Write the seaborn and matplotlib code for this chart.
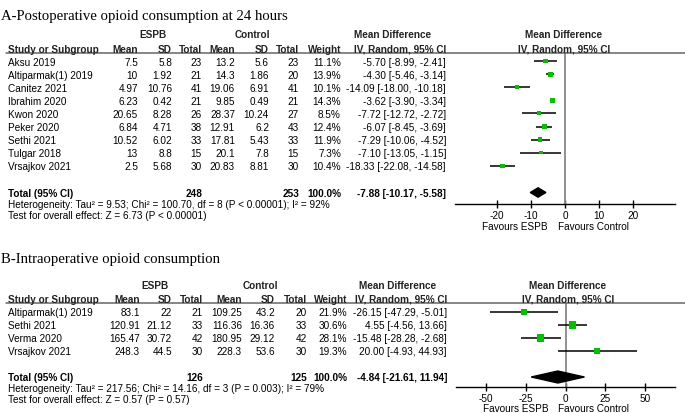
import matplotlib.pyplot as plt
import seaborn as sns
from matplotlib.lines import Line2D
from matplotlib.patches import Polygon

# A - postoperative opioid consumption at 24 hours
studies_a = ["Aksu 2019", "Altiparmak(1) 2019", "Canitez 2021", "Ibrahim 2020", "Kwon 2020",
             "Peker 2020", "Sethi 2021", "Tulgar 2018", "Vrsajkov 2021"]
espb_mean_a = [7.5, 10, 4.97, 6.23, 20.65, 6.84, 10.52, 13, 2.5]
espb_sd_a = [5.8, 1.92, 10.76, 0.42, 8.28, 4.71, 6.02, 8.8, 5.68]
espb_n_a = [23, 21, 41, 21, 26, 38, 33, 15, 30]
ctrl_mean_a = [13.2, 14.3, 19.06, 9.85, 28.37, 12.91, 17.81, 20.1, 20.83]
ctrl_sd_a = [5.6, 1.86, 6.91, 0.49, 10.24, 6.2, 5.43, 7.8, 8.81]
ctrl_n_a = [23, 20, 41, 21, 27, 43, 33, 15, 30]
weight_a = [11.1, 13.9, 10.1, 14.3, 8.5, 12.4, 11.9, 7.3, 10.4]
md_a = [-5.70, -4.30, -14.09, -3.62, -7.72, -6.07, -7.29, -7.10, -18.33]
lo_a = [-8.99, -5.46, -18.00, -3.90, -12.72, -8.45, -10.06, -13.05, -22.08]
hi_a = [-2.41, -3.14, -10.18, -3.34, -2.72, -3.69, -4.52, -1.15, -14.58]
total_a = [248, 253, -7.88, -10.17, -5.58]
het_a = "Heterogeneity: Tau² = 9.53; Chi² = 100.70, df = 8 (P < 0.00001); I² = 92%"
test_a = "Test for overall effect: Z = 6.73 (P < 0.00001)"
ticks_a = [-20, -10, 0, 10, 20]

# B - intraoperative opioid consumption
studies_b = ["Altiparmak(1) 2019", "Sethi 2021", "Verma 2020", "Vrsajkov 2021"]
espb_mean_b = [83.1, 120.91, 165.47, 248.3]
espb_sd_b = [22, 21.12, 30.72, 44.5]
espb_n_b = [21, 33, 42, 30]
ctrl_mean_b = [109.25, 116.36, 180.95, 228.3]
ctrl_sd_b = [43.2, 16.36, 29.12, 53.6]
ctrl_n_b = [20, 33, 42, 30]
weight_b = [21.9, 30.6, 28.1, 19.3]
md_b = [-26.15, 4.55, -15.48, 20.00]
lo_b = [-47.29, -4.56, -28.28, -4.93]
hi_b = [-5.01, 13.66, -2.68, 44.93]
total_b = [126, 125, -4.84, -21.61, 11.94]
het_b = "Heterogeneity: Tau² = 217.56; Chi² = 14.16, df = 3 (P = 0.003); I² = 79%"
test_b = "Test for overall effect: Z = 0.57 (P = 0.57)"
ticks_b = [-50, -25, 0, 25, 50]

sns.set_theme(style='white')
plt.rcParams['font.family'] = ['Liberation Sans', 'DejaVu Sans']
plt.rcParams['axes.unicode_minus'] = False

W, H = 685, 414
FS = 7.2
GREEN = '#00c000'
fig = plt.figure(figsize=(W / 100, H / 100), dpi=100)


def put(x, y, s, ha='left', bold=False, size=FS, family=None, color='black'):
    # y is the vertical centre of the capitals, in pixels from the top
    kw = {'family': family} if family else {}
    cap = 0.7 * size * 100 / 72
    fig.text(x / W, 1 - (y + cap / 2) / H, s, ha=ha, va='baseline', fontsize=size,
             fontweight='bold' if bold else 'normal', color=color, **kw)


def num(v):
    return f"{v:g}"


def draw_panel(title, y_title, y_grp, y_sub, y_row0, step, y_tot, cols, box, xlim, ticks,
               studies, em, esd, en, cm, csd, cn, w, md, lo, hi, tot, het, test, dh):
    (c_name, c_m1, c_sd1, c_n1, c_m2, c_sd2, c_n2, c_w, c_md,
     c_espb, c_ctrl, c_mdh, c_plot) = cols
    put(1, y_title, title, size=10.6, family='Liberation Serif')

    # headers
    put(c_espb, y_grp, "ESPB", ha='center', bold=True, color='#222')
    put(c_ctrl, y_grp, "Control", ha='center', bold=True, color='#222')
    put(c_mdh, y_grp, "Mean Difference", ha='center', bold=True, color='#222')
    put(c_plot, y_grp, "Mean Difference", ha='center', bold=True, color='#222')
    put(c_name, y_sub, "Study or Subgroup", bold=True, color='#222')
    for x, s in [(c_m1, "Mean"), (c_sd1, "SD"), (c_n1, "Total"), (c_m2, "Mean"),
                 (c_sd2, "SD"), (c_n2, "Total"), (c_w, "Weight")]:
        put(x, y_sub, s, ha='right', bold=True, color='#222')
    put(c_md, y_sub, "IV, Random, 95% CI", ha='right', bold=True, color='#222')
    put(c_plot, y_sub, "IV, Random, 95% CI", ha='center', bold=True, color='#222')
    y_line = y_sub + 4
    fig.add_artist(Line2D([6 / W, 1], [1 - y_line / H] * 2, color='#666', lw=1.1))

    rows = [y_row0 + i * step for i in range(len(studies))]
    for i, y in enumerate(rows):
        put(c_name, y, studies[i])
        put(c_m1, y, num(em[i]), ha='right')
        put(c_sd1, y, num(esd[i]), ha='right')
        put(c_n1, y, num(en[i]), ha='right')
        put(c_m2, y, num(cm[i]), ha='right')
        put(c_sd2, y, num(csd[i]), ha='right')
        put(c_n2, y, num(cn[i]), ha='right')
        put(c_w, y, f"{w[i]:.1f}%", ha='right')
        put(c_md, y, f"{md[i]:.2f} [{lo[i]:.2f}, {hi[i]:.2f}]", ha='right')

    put(c_name, y_tot, "Total (95% CI)", bold=True)
    put(c_n1, y_tot, num(tot[0]), ha='right', bold=True)
    put(c_n2, y_tot, num(tot[1]), ha='right', bold=True)
    put(c_w, y_tot, "100.0%", ha='right', bold=True)
    put(c_md, y_tot, f"{tot[2]:.2f} [{tot[3]:.2f}, {tot[4]:.2f}]", ha='right', bold=True)
    put(c_name, y_tot + 10.8, het)
    put(c_name, y_tot + 21.8, test)

    # forest plot
    x0, x1, y_axis = box
    ax = fig.add_axes([x0 / W, 1 - y_axis / H, (x1 - x0) / W, (y_axis - y_line) / H])
    ax.axvline(0, color='#888', lw=1.3, zorder=1)
    ax.hlines(rows, lo, hi, color='black', lw=1.1, zorder=2)
    sns.scatterplot(x=md, y=rows, size=w, sizes=(0, 32), size_norm=(0, 35), marker='s',
                    color=GREEN, linewidth=0, legend=False, ax=ax, zorder=3)
    ax.add_patch(Polygon([[tot[3], y_tot], [tot[2], y_tot - dh], [tot[4], y_tot],
                          [tot[2], y_tot + dh]], closed=True, color='black', zorder=3))
    ax.set_xlim(*xlim)
    ax.set_ylim(y_axis, y_line)
    ax.set_xticks(ticks)
    ax.set_yticks([])
    ax.set_xlabel('')
    ax.set_ylabel('')
    ax.patch.set_alpha(0)
    for side in ['top', 'left', 'right']:
        ax.spines[side].set_visible(False)
    ax.spines['bottom'].set_color('black')
    ax.spines['bottom'].set_linewidth(1)
    ax.tick_params(axis='x', direction='inout', length=6, width=1, colors='black',
                   labelsize=FS, pad=1.5, bottom=True)

    zero_px = x0 + (0 - xlim[0]) / (xlim[1] - xlim[0]) * (x1 - x0)
    y_fav = min(y_axis + 22, 409)
    put(zero_px - 17, y_fav, "Favours ESPB", ha='right')
    put(zero_px - 7, y_fav, "Favours Control")


draw_panel("A-Postoperative opioid consumption at 24 hours", 15, 35, 49.5, 62, 13.1, 193.5,
           (8, 138, 172, 202, 235, 269, 299, 341, 446, 153, 252, 393, 564),
           (455, 675, 205), (-32.2, 32.2), ticks_a,
           studies_a, espb_mean_a, espb_sd_a, espb_n_a, ctrl_mean_a, ctrl_sd_a, ctrl_n_a,
           weight_a, md_a, lo_a, hi_a, total_a, het_a, test_a, 4.7)

draw_panel("B-Intraoperative opioid consumption", 258, 286, 299.5, 313, 13, 378,
           (8, 140, 172, 203, 242, 275, 307, 347, 447, 155, 260, 398, 568),
           (456, 675, 388), (-69, 69), ticks_b,
           studies_b, espb_mean_b, espb_sd_b, espb_n_b, ctrl_mean_b, ctrl_sd_b, ctrl_n_b,
           weight_b, md_b, lo_b, hi_b, total_b, het_b, test_b, 6)

fig.savefig('out.png', dpi=100)
